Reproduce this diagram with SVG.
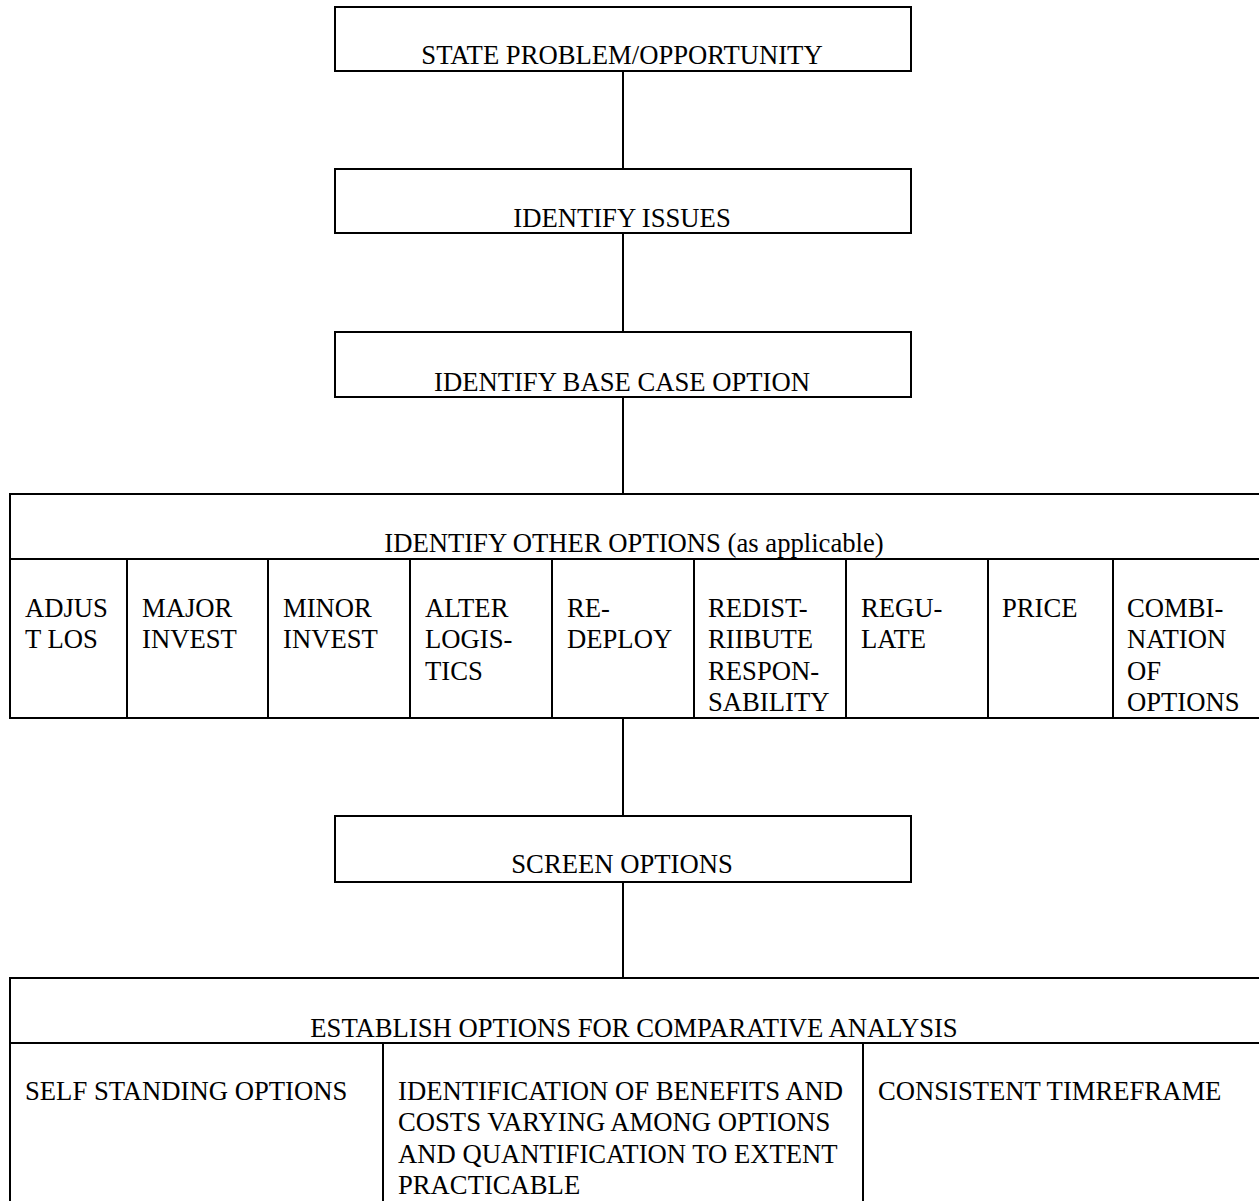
<svg xmlns="http://www.w3.org/2000/svg" width="1259" height="1201" viewBox="0 0 1259 1201">
<style>
  .box { fill: #ffffff; stroke: #000000; stroke-width: 2; }
  .ln { stroke: #000000; stroke-width: 2; fill: none; }
  text { font-family: "Liberation Serif", "Times New Roman", serif; font-size: 26.67px; fill: #000000; }
  .c { text-anchor: middle; }
</style>
<rect x="0" y="0" width="1259" height="1201" fill="#ffffff"/>
<g id="connectors">
  <line class="ln" x1="623" y1="71" x2="623" y2="169"/>
  <line class="ln" x1="623" y1="233" x2="623" y2="332"/>
  <line class="ln" x1="623" y1="397" x2="623" y2="494"/>
  <line class="ln" x1="623" y1="718" x2="623" y2="816"/>
  <line class="ln" x1="623" y1="882" x2="623" y2="978"/>
</g>
<g id="state-problem">
  <rect class="box" x="335" y="7" width="576" height="64"/>
  <text class="c" x="622" y="64">STATE PROBLEM/OPPORTUNITY</text>
</g>
<g id="identify-issues">
  <rect class="box" x="335" y="169" width="576" height="64"/>
  <text class="c" x="622" y="227">IDENTIFY ISSUES</text>
</g>
<g id="identify-base-case">
  <rect class="box" x="335" y="332" width="576" height="65"/>
  <text class="c" x="622" y="391">IDENTIFY BASE CASE OPTION</text>
</g>
<g id="identify-other-options">
  <rect class="box" x="10" y="494" width="1254" height="224"/>
  <line class="ln" x1="10" y1="559" x2="1264" y2="559"/>
  <line class="ln" x1="127" y1="559" x2="127" y2="718"/>
  <line class="ln" x1="268" y1="559" x2="268" y2="718"/>
  <line class="ln" x1="410" y1="559" x2="410" y2="718"/>
  <line class="ln" x1="552" y1="559" x2="552" y2="718"/>
  <line class="ln" x1="694" y1="559" x2="694" y2="718"/>
  <line class="ln" x1="846" y1="559" x2="846" y2="718"/>
  <line class="ln" x1="988" y1="559" x2="988" y2="718"/>
  <line class="ln" x1="1113" y1="559" x2="1113" y2="718"/>
  <text class="c" x="634" y="552">IDENTIFY OTHER OPTIONS (as applicable)</text>
  <text x="25" y="617">ADJUS</text>
  <text x="25" y="648">T LOS</text>
  <text x="142" y="617">MAJOR</text>
  <text x="142" y="648">INVEST</text>
  <text x="283" y="617">MINOR</text>
  <text x="283" y="648">INVEST</text>
  <text x="425" y="617">ALTER</text>
  <text x="425" y="648">LOGIS-</text>
  <text x="425" y="680">TICS</text>
  <text x="567" y="617">RE-</text>
  <text x="567" y="648">DEPLOY</text>
  <text x="708" y="617">REDIST-</text>
  <text x="708" y="648">RIIBUTE</text>
  <text x="708" y="680">RESPON-</text>
  <text x="708" y="711">SABILITY</text>
  <text x="861" y="617">REGU-</text>
  <text x="861" y="648">LATE</text>
  <text x="1002" y="617">PRICE</text>
  <text x="1127" y="617">COMBI-</text>
  <text x="1127" y="648">NATION</text>
  <text x="1127" y="680">OF</text>
  <text x="1127" y="711">OPTIONS</text>
</g>
<g id="screen-options">
  <rect class="box" x="335" y="816" width="576" height="66"/>
  <text class="c" x="622" y="873">SCREEN OPTIONS</text>
</g>
<g id="establish-options">
  <rect class="box" x="10" y="978" width="1254" height="240"/>
  <line class="ln" x1="10" y1="1043" x2="1264" y2="1043"/>
  <line class="ln" x1="383" y1="1043" x2="383" y2="1218"/>
  <line class="ln" x1="863" y1="1043" x2="863" y2="1218"/>
  <text class="c" x="634" y="1037">ESTABLISH OPTIONS FOR COMPARATIVE ANALYSIS</text>
  <text x="25" y="1100">SELF STANDING OPTIONS</text>
  <text x="398" y="1100">IDENTIFICATION OF BENEFITS AND</text>
  <text x="398" y="1131">COSTS VARYING AMONG OPTIONS</text>
  <text x="398" y="1163">AND QUANTIFICATION TO EXTENT</text>
  <text x="398" y="1194">PRACTICABLE</text>
  <text x="878" y="1100">CONSISTENT TIMREFRAME</text>
</g>
</svg>
